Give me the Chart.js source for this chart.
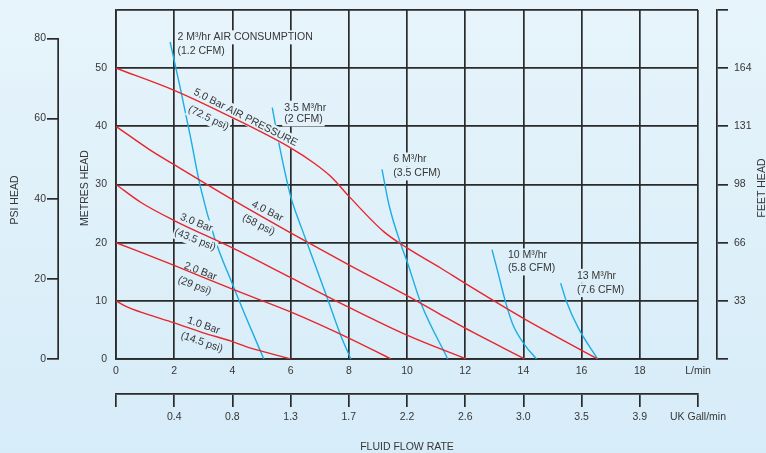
<!DOCTYPE html>
<html>
<head>
<meta charset="utf-8">
<script src="https://cdn.jsdelivr.net/npm/chart.js@4.4.1/dist/chart.umd.min.js"></script>
<style>
  html, body { margin: 0; padding: 0; }
  body { width: 766px; height: 453px; overflow: hidden; background: #dfeff9; }
</style>
</head>
<body>
<canvas id="pumpChart" width="766" height="453"></canvas>
<script>
// tick values and labels
const flowTicks = [0, 2, 4, 6, 8, 10, 12, 14, 16, 18, 20];
const flowLabels = ['0', '2', '4', '6', '8', '10', '12', '14', '16', '18', 'L/min'];
const gallonLabels = ['', '0.4', '0.8', '1.3', '1.7', '2.2', '2.6', '3.0', '3.5', '3.9', 'UK Gall/min'];
const metreTicks = [0, 10, 20, 30, 40, 50, 60];
const metreLabels = ['0', '10', '20', '30', '40', '50', ''];
const feetLabels = ['', '33', '66', '98', '131', '164', ''];
const psiTicks = [0, 20, 40, 60, 80];

// air pressure curves: [flow L/min, head metres]
const bar1 = [[0, 10], [0.4, 8.9], [0.83, 8.1], [2, 6.2], [3, 4.5], [4, 3.0], [4.6, 1.9], [5, 1.35], [6, 0]];
const bar2 = [[0, 20], [2, 16.1], [4, 12], [6, 8.1], [8, 3.6], [9.45, 0]];
const bar3 = [[0, 30], [0.86, 26.9], [2, 23.8], [4, 19.1], [6, 14], [8, 8.9], [10, 4.1], [12.03, 0]];
const bar4 = [[0, 40], [1.15, 36], [2, 33.4], [4, 27.4], [6, 21.7], [8, 16.2], [10, 10.9], [11.17, 7.6], [12, 5.3], [14.05, 0]];
const bar5 = [[0, 50], [2, 46.2], [4, 41.5], [6, 36.3], [6.8, 33.7], [7.4, 31.3], [8, 28], [9.2, 21.9], [10, 19.1], [11.17, 15.6], [12, 13], [14, 7], [16, 1.5], [16.55, 0]];

// air consumption curves
const air2 = [[1.86, 54.5], [2.2, 46.8], [2.55, 38.4], [2.9, 29.6], [3.4, 20.6], [4, 12.9], [4.5, 6.8], [5.08, 0]];
const air35 = [[5.37, 43.2], [5.63, 36.3], [6, 28], [6.4, 22.2], [6.57, 19.9], [7.26, 10.5], [7.72, 4.1], [8.07, 0]];
const air6 = [[9.14, 32.6], [9.39, 26.3], [9.79, 19.7], [10.02, 16.5], [10.48, 9.6], [11.4, 0]];
const air10 = [[12.92, 18.8], [13.13, 14.8], [13.38, 9.9], [13.64, 5.9], [14.05, 2.4], [14.45, 0]];
const air13 = [[15.28, 13.05], [15.48, 9.9], [15.89, 5.3], [16.55, 0]];

// curve captions: text, flow, head (and angle for the slanted ones)
const flatNotes = [
    ['2 M³/hr AIR CONSUMPTION', 2.11, 55.3],
    ['(1.2 CFM)', 2.11, 53.0],
    ['3.5 M³/hr', 5.78, 43.2],
    ['(2 CFM)', 5.78, 41.2],
    ['6 M³/hr', 9.53, 34.3],
    ['(3.5 CFM)', 9.53, 31.9],
    ['10 M³/hr', 13.47, 17.8],
    ['(5.8 CFM)', 13.47, 15.57],
    ['13 M³/hr', 15.84, 14.3],
    ['(7.6 CFM)', 15.84, 11.84]
];
const slantNotes = [
    ['5.0 Bar AIR PRESSURE', 4.45, 41.5, 27],
    ['(72.5 psi)', 3.18, 41.4, 26],
    ['4.0 Bar', 5.2, 25.4, 27],
    ['(58 psi)', 4.9, 23.05, 27],
    ['3.0 Bar', 2.76, 23.4, 22],
    ['(43.5 psi)', 2.72, 20.5, 22],
    ['2.0 Bar', 2.9, 15.05, 21],
    ['(29 psi)', 2.7, 12.6, 21],
    ['1.0 Bar', 3.01, 5.74, 19],
    ['(14.5 psi)', 2.95, 2.87, 19]
];

const textColor = '#363636';
const gridColor = '#2a2a2a';
const redLine = '#e8252b';
const blueLine = '#1badE4';
const fontFamily = "'Liberation Sans', Arial, sans-serif";
const bgTop = [231, 244, 251];
const bgBottom = [214, 236, 248];

Chart.defaults.font.family = fontFamily;
Chart.defaults.font.size = 10.5;
Chart.defaults.color = textColor;

const bgAt = y => {
    const t = Math.min(Math.max(y / 453, 0), 1);
    return 'rgb(' + bgTop.map((c, i) => Math.round(c + (bgBottom[i] - c) * t)).join(',') + ')';
};

const series = (pts, color, order) => ({
    data: pts.map(([x, y]) => ({ x, y })),
    showLine: true,
    borderColor: color,
    borderWidth: 1.4,
    pointRadius: 0,
    cubicInterpolationMode: 'monotone',
    order: order
});

const fixedTicks = list => scale => { scale.ticks = list.map(v => ({ value: v })); };

// fixed width for side axes, no extra room for half labels at the ends
const sideWidth = w => s => {
    s.width = w;
    s.paddingTop = 0;
    s.paddingBottom = 0;
};

// page background
const backdrop = {
    id: 'backdrop',
    beforeDraw(chart) {
        const { ctx, width, height } = chart;
        const g = ctx.createLinearGradient(0, 0, 0, height);
        g.addColorStop(0, bgAt(0));
        g.addColorStop(1, bgAt(height));
        ctx.save();
        ctx.fillStyle = g;
        ctx.fillRect(0, 0, width, height);
        ctx.restore();
    }
};

// caption boxes hide grid and blue curves, drawn before the red curves
let boxesDone = false;
const drawBoxes = chart => {
    const { ctx, scales: { x, y } } = chart;
    ctx.save();
    ctx.font = '10.5px ' + fontFamily;
    flatNotes.forEach(([text, fx, hy]) => {
        const px = x.getPixelForValue(fx), py = y.getPixelForValue(hy);
        const w = ctx.measureText(text).width;
        ctx.fillStyle = bgAt(py);
        ctx.fillRect(px - 2, py - 7, w + 4, 14);
    });
    slantNotes.forEach(([text, fx, hy, deg]) => {
        const px = x.getPixelForValue(fx), py = y.getPixelForValue(hy);
        const w = ctx.measureText(text).width;
        ctx.save();
        ctx.translate(px, py);
        ctx.rotate(deg * Math.PI / 180);
        ctx.fillStyle = bgAt(py);
        ctx.fillRect(-w / 2 - 1, -7, w + 2, 14);
        ctx.restore();
    });
    ctx.restore();
};

const notes = {
    id: 'notes',
    beforeDatasetsDraw() { boxesDone = false; },
    beforeDatasetDraw(chart, args) {
        const ds = chart.data.datasets[args.index];
        if (!boxesDone && ds.borderColor === redLine) {
            drawBoxes(chart);
            boxesDone = true;
        }
    },
    afterDatasetsDraw(chart) {
        const { ctx, scales: { x, y, psi } } = chart;
        ctx.save();
        ctx.font = '10.5px ' + fontFamily;
        ctx.fillStyle = textColor;
        ctx.textBaseline = 'middle';
        ctx.textAlign = 'left';
        flatNotes.forEach(([text, fx, hy]) => {
            ctx.fillText(text, x.getPixelForValue(fx), y.getPixelForValue(hy));
        });
        ctx.textAlign = 'center';
        slantNotes.forEach(([text, fx, hy, deg]) => {
            ctx.save();
            ctx.translate(x.getPixelForValue(fx), y.getPixelForValue(hy));
            ctx.rotate(deg * Math.PI / 180);
            ctx.fillText(text, 0, 0);
            ctx.restore();
        });

        // psi axis line only runs up to its last tick
        ctx.strokeStyle = gridColor;
        ctx.lineWidth = 1.7;
        ctx.beginPath();
        ctx.moveTo(psi.right - 0.85, psi.getPixelForValue(0));
        ctx.lineTo(psi.right - 0.85, psi.getPixelForValue(80));
        ctx.stroke();

        // vertical axis titles
        const vText = (text, cx, cy) => {
            ctx.save();
            ctx.translate(cx, cy);
            ctx.rotate(-Math.PI / 2);
            ctx.fillText(text, 0, 0);
            ctx.restore();
        };
        vText('PSI HEAD', psi.left + 15, 200);
        vText('METRES HEAD', y.left + 26, 188);
        vText('FEET HEAD', chart.width - 4, 188);
        ctx.restore();
    }
};

const chartEl = document.getElementById('pumpChart');

new Chart(chartEl, {
    type: 'scatter',
    data: {
        datasets: [
            series(air2, blueLine, 2),
            series(air35, blueLine, 2),
            series(air6, blueLine, 2),
            series(air10, blueLine, 2),
            series(air13, blueLine, 2),
            series(bar1, redLine, 1),
            series(bar2, redLine, 1),
            series(bar3, redLine, 1),
            series(bar4, redLine, 1),
            series(bar5, redLine, 1)
        ]
    },
    options: {
        responsive: false,
        animation: false,
        devicePixelRatio: 1,
        layout: { padding: { top: 10, left: 0, right: 0, bottom: 0 } },
        plugins: { legend: { display: false }, tooltip: { enabled: false } },
        scales: {
            x: {
                type: 'linear', position: 'bottom', min: 0, max: 20, weight: 0,
                afterBuildTicks: fixedTicks(flowTicks),
                ticks: { autoSkip: false, maxRotation: 0, padding: 6, callback: (v, i) => flowLabels[i] },
                grid: { color: gridColor, lineWidth: 1.7, drawTicks: false },
                border: { color: gridColor, width: 1.7 },
                afterFit: s => { s.height = 35; }
            },
            x2: {
                type: 'linear', position: 'bottom', min: 0, max: 20, weight: 1,
                afterBuildTicks: fixedTicks(flowTicks),
                ticks: { autoSkip: false, maxRotation: 0, padding: 4, callback: (v, i) => gallonLabels[i] },
                grid: { drawOnChartArea: false, tickLength: 13, color: gridColor, lineWidth: 1.7 },
                border: { color: gridColor, width: 1.7 },
                title: { display: true, text: 'FLUID FLOW RATE', padding: { top: 0, bottom: 0 } },
                afterFit: s => { s.height = 59; }
            },
            y: {
                type: 'linear', position: 'left', min: 0, max: 60, weight: 0,
                afterBuildTicks: fixedTicks(metreTicks),
                ticks: { padding: 9, callback: (v, i) => metreLabels[i] },
                grid: { color: gridColor, lineWidth: 1.7, drawTicks: false },
                border: { color: gridColor, width: 1.7 },
                afterFit: sideWidth(57)
            },
            psi: {
                type: 'linear', position: 'left', min: 0, max: 87.1, weight: 1,
                afterBuildTicks: fixedTicks(psiTicks),
                ticks: { padding: 1, callback: v => String(v) },
                grid: { drawOnChartArea: false, tickLength: 12, color: gridColor, lineWidth: 1.7 },
                border: { display: false },
                afterFit: sideWidth(59)
            },
            gap: {
                type: 'linear', position: 'right', min: 0, max: 60, weight: 0,
                ticks: { display: false },
                grid: { display: false },
                border: { display: false },
                afterFit: sideWidth(19)
            },
            feet: {
                type: 'linear', position: 'right', min: 0, max: 60, weight: 1,
                afterBuildTicks: fixedTicks(metreTicks),
                ticks: { padding: 6, callback: (v, i) => feetLabels[i] },
                grid: { drawOnChartArea: false, tickLength: 11, color: gridColor, lineWidth: 1.7 },
                border: { color: gridColor, width: 1.7 },
                afterFit: sideWidth(49)
            }
        }
    },
    plugins: [backdrop, notes]
});
</script>
</body>
</html>
